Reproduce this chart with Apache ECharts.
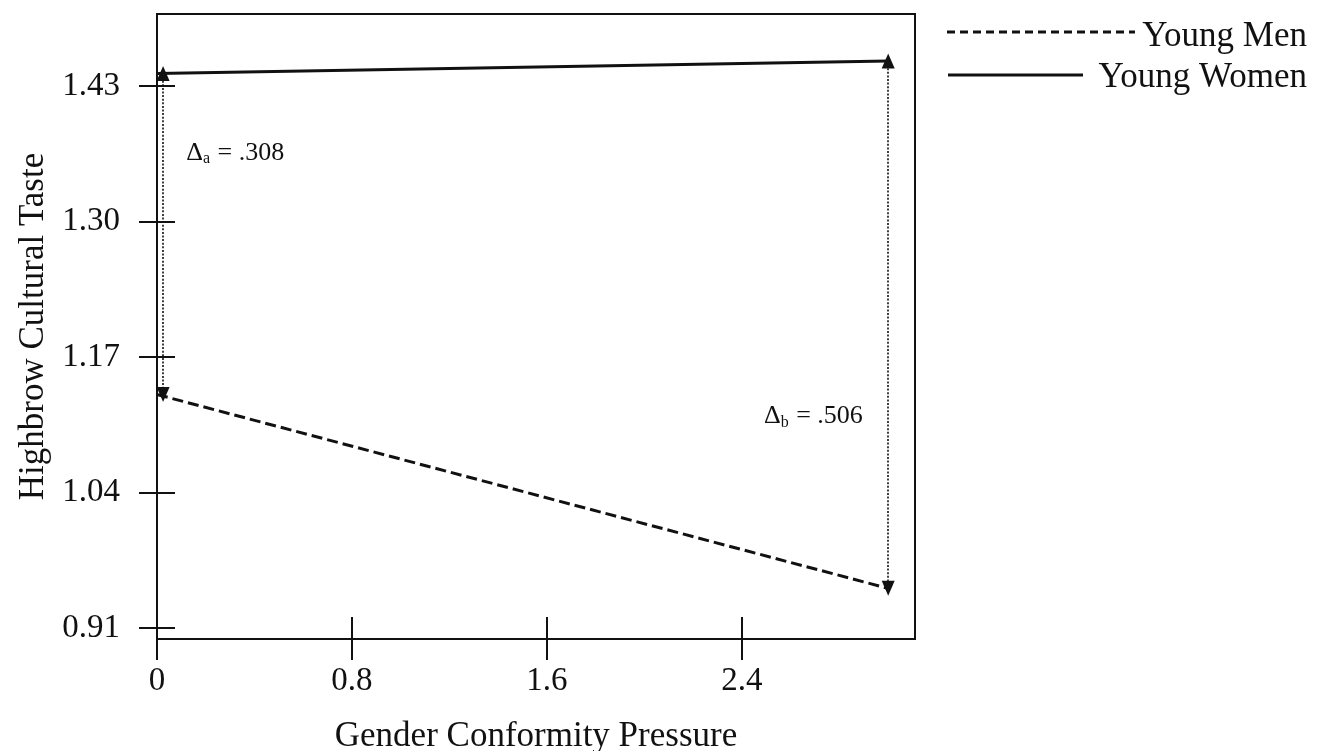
<!DOCTYPE html>
<html>
<head>
<meta charset="utf-8">
<title>Highbrow Cultural Taste by Gender Conformity Pressure</title>
<script src="https://cdn.jsdelivr.net/npm/echarts@6/dist/echarts.min.js"></script>
<style>
  html, body { margin: 0; padding: 0; background: #fff; overflow: hidden; }
  #chart { width: 1327px; height: 751px; }
</style>
</head>
<body>
<div id="chart"></div>
<script>
// Predicted taste at the two ends of the pressure range
const pressure = [0, 3.0];
const youngMen = [1.134, 0.948];
const youngWomen = [1.442, 1.454];
const seriesNames = ['Young Men', 'Young Women'];

// Axis tick labels
const xTicks = [0, 0.8, 1.6, 2.4];
const yTicks = [0.91, 1.04, 1.17, 1.30, 1.43];

const FONT = '"Liberation Serif", "Times New Roman", serif';
const INK = '#111';

// Gap between the two lines at each end, written without the leading zero
function gapText(i) {
  return (youngWomen[i] - youngMen[i]).toFixed(3).replace(/^0/, '');
}

const pairs = (xs, ys) => xs.map((x, i) => [x, ys[i]]);

const arrowStyle = { color: INK, width: 1.6, type: [2, 1.6] };

function gapArrow(i, xShift) {
  return [
    { coord: [pressure[i] + xShift, youngWomen[i]] },
    { coord: [pressure[i] + xShift, youngMen[i]] }
  ];
}

const richDelta = {
  d: { fontFamily: FONT, fontSize: 26, color: INK },
  s: { fontFamily: FONT, fontSize: 16, color: INK, padding: [12, 1, 0, 0] }
};

const chart = echarts.init(document.getElementById('chart'), null,
  { renderer: 'canvas', width: 1327, height: 751 });

chart.setOption({
  backgroundColor: '#fff',
  animation: false,
  grid: {
    left: 157, top: 14, right: 412, bottom: 112,
    outerBoundsMode: 'none',
    show: true, borderColor: INK, borderWidth: 2, backgroundColor: 'transparent'
  },
  xAxis: [{
    type: 'value', min: 0, max: 3.11,
    name: 'Gender Conformity Pressure', nameLocation: 'middle', nameGap: 80,
    nameTextStyle: { fontFamily: FONT, fontSize: 35, color: INK },
    axisLine: { show: true, lineStyle: { color: INK, width: 2 } },
    axisTick: { show: true, length: 21, customValues: xTicks, lineStyle: { color: INK, width: 2 } },
    axisLabel: { customValues: xTicks, margin: 26, fontFamily: FONT, fontSize: 33, color: INK,
                 formatter: v => String(v) },
    splitLine: { show: false }
  }, {
    type: 'value', min: 0, max: 3.11, position: 'bottom',
    axisLine: { show: false },
    axisTick: { show: true, inside: true, length: 22, customValues: xTicks, lineStyle: { color: INK, width: 2 } },
    axisLabel: { show: false },
    splitLine: { show: false }
  }],
  yAxis: [{
    type: 'value', min: 0.8994, max: 1.4991,
    name: 'Highbrow Cultural Taste', nameLocation: 'middle', nameGap: 106,
    nameTextStyle: { fontFamily: FONT, fontSize: 35, color: INK },
    axisLine: { show: true, lineStyle: { color: INK, width: 2 } },
    axisTick: { show: true, length: 18, customValues: yTicks, lineStyle: { color: INK, width: 2 } },
    axisLabel: { customValues: yTicks, margin: 37, fontFamily: FONT, fontSize: 33, color: INK,
                 formatter: v => v.toFixed(2) },
    splitLine: { show: false }
  }, {
    type: 'value', min: 0.8994, max: 1.4991, position: 'left',
    axisLine: { show: false },
    axisTick: { show: true, inside: true, length: 18, customValues: yTicks, lineStyle: { color: INK, width: 2 } },
    axisLabel: { show: false },
    splitLine: { show: false }
  }],
  series: [{
    name: seriesNames[0],
    type: 'line',
    data: pairs(pressure, youngMen),
    symbol: 'none',
    lineStyle: { color: INK, width: 3, type: [11, 5] },
    z: 3
  }, {
    name: seriesNames[1],
    type: 'line',
    data: pairs(pressure, youngWomen),
    symbol: 'none',
    lineStyle: { color: INK, width: 3, type: 'solid' },
    z: 3,
    markLine: {
      silent: true,
      symbol: ['triangle', 'triangle'],
      symbolSize: [13, 15],
      label: { show: false },
      lineStyle: arrowStyle,
      data: [gapArrow(0, 0.025), gapArrow(1, 0)]
    },
    markPoint: {
      silent: true,
      symbol: 'circle',
      symbolSize: 0,
      data: [{
        coord: [0.12, 1.366],
        label: { show: true, position: 'right', distance: 0,
                 formatter: '{d|Δ}{s|a}{d| = ' + gapText(0) + '}', rich: richDelta }
      }, {
        coord: [2.896, 1.113],
        label: { show: true, position: 'left', distance: 0,
                 formatter: '{d|Δ}{s|b}{d| = ' + gapText(1) + '}', rich: richDelta }
      }]
    }
  }],
  graphic: [
    { type: 'line', shape: { x1: 947, y1: 32, x2: 1135, y2: 32 },
      style: { stroke: INK, lineWidth: 3, lineDash: [8, 5] } },
    { type: 'text', right: 20, top: 19,
      style: { text: seriesNames[0], font: '35px ' + FONT, fill: INK } },
    { type: 'line', shape: { x1: 948, y1: 75, x2: 1083, y2: 75 },
      style: { stroke: INK, lineWidth: 3 } },
    { type: 'text', right: 20, top: 60,
      style: { text: seriesNames[1], font: '35px ' + FONT, fill: INK } }
  ]
});
</script>
</body>
</html>
